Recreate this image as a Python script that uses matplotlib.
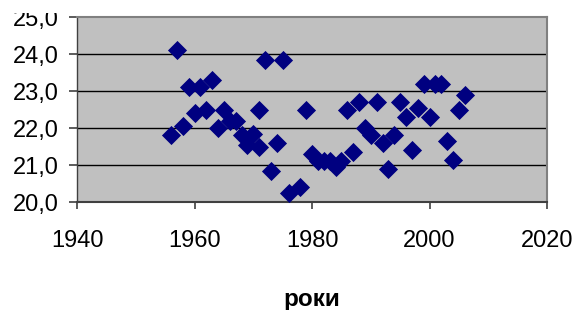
import matplotlib
matplotlib.use("Agg")
import matplotlib.pyplot as plt
from matplotlib.patches import Rectangle
from matplotlib.ticker import FuncFormatter

plt.rcParams['font.family'] = ['Liberation Sans', 'DejaVu Sans']

# data
years = [1956, 1957, 1958, 1959, 1960, 1961, 1962, 1963, 1964, 1965,
         1966, 1967, 1968, 1969, 1970, 1971, 1971, 1972, 1973, 1974,
         1975, 1976, 1978, 1979, 1980, 1981, 1982, 1983, 1984, 1985,
         1986, 1987, 1988, 1989, 1990, 1991, 1992, 1993, 1994, 1995,
         1996, 1997, 1998, 1999, 2000, 2001, 2002, 2003, 2004, 2005,
         2006]
values = [21.8, 24.1, 22.05, 23.1, 22.4, 23.1, 22.5, 23.3, 22.0, 22.5,
          22.2, 22.2, 21.8, 21.55, 21.85, 22.5, 21.5, 23.85, 20.85, 21.6,
          23.85, 20.25, 20.4, 22.5, 21.3, 21.1, 21.1, 21.1, 20.95, 21.1,
          22.5, 21.35, 22.7, 22.0, 21.8, 22.7, 21.6, 20.9, 21.8, 22.7,
          22.3, 21.4, 22.55, 23.2, 22.3, 23.2, 23.2, 21.65, 21.15, 22.5,
          22.9]
x_ticks = [1940, 1960, 1980, 2000, 2020]
y_ticks = [20, 21, 22, 23, 24, 25]
x_title = "роки"

fig = plt.figure(figsize=(5.77, 3.10), dpi=100)
ax = fig.add_axes([0.1335, 0.348, 0.8145, 0.597])
ax.set_facecolor("#C0C0C0")

for y in y_ticks[1:-1]:
    ax.axhline(y, color="black", lw=1.0, zorder=1)

ax.scatter(years, values, marker="D", s=95, color="#000080", linewidths=0, zorder=3)

ax.set_xlim(1940, 2020)
ax.set_ylim(20, 25)
ax.set_xticks(x_ticks)
ax.set_yticks(y_ticks)
ax.yaxis.set_major_formatter(FuncFormatter(lambda v, p: ("%.1f" % v).replace(".", ",")))

for s in ax.spines.values():
    s.set_color("#808080")
    s.set_linewidth(1.5)
ax.spines["bottom"].set_color("#404040")
ax.spines["left"].set_color("#404040")
ax.spines["left"].set_linewidth(1.0)

ax.tick_params(axis="both", colors="#404040", labelcolor="black", labelsize=17)
ax.tick_params(axis="x", length=5, pad=15, width=1.2)
ax.tick_params(axis="y", length=6, pad=7, width=1.2)

ax.set_xlabel(x_title, fontsize=17.5, fontweight="bold", labelpad=26)

# the top of the "25,0" label is cut off in the original
fig.patches.append(Rectangle((0, 1 - 13 / 310), 1, 13 / 310, transform=fig.transFigure,
                             facecolor="white", edgecolor="none", zorder=10))

fig.savefig("out.png", dpi=100)
